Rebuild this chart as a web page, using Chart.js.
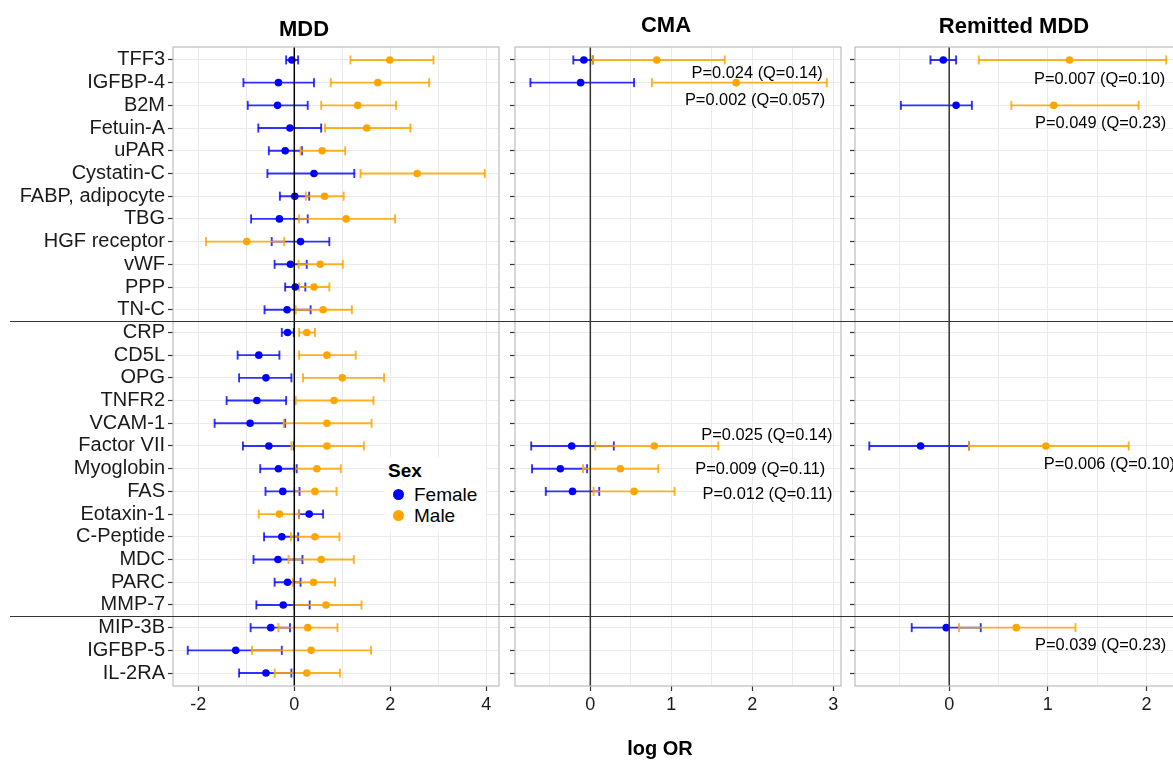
<!DOCTYPE html>
<html>
<head>
<meta charset="utf-8">
<title>log OR by sex</title>
<script src="https://cdn.jsdelivr.net/npm/chart.js@4.4.0/dist/chart.umd.min.js"></script>
<style>
  html, body { margin: 0; padding: 0; background: #fff; overflow: hidden; }
  body { width: 1173px; height: 760px; position: relative; font-family: "Liberation Sans", Arial, sans-serif; color: #000; }
  canvas { position: absolute; top: 0; }
  .title { position: absolute; font-weight: bold; font-size: 22px; line-height: 22px; transform: translateX(-50%); white-space: nowrap; }
  .legend { position: absolute; left: 385px; top: 458px; width: 101px; height: 72px; background: #fff; }
  .legend div { position: absolute; white-space: nowrap; font-size: 19px; line-height: 22px; }
  .legend .dot { width: 11px; height: 11px; border-radius: 50%; top: 5px; left: 8px; }
</style>
</head>
<body>
<canvas id="mdd" width="507" height="760" style="left:0"></canvas>
<canvas id="cma" width="341" height="760" style="left:507px"></canvas>
<canvas id="rem" width="342" height="760" style="left:848px"></canvas>

<div class="title" style="left:304px; top:18px">MDD</div>
<div class="title" style="left:666px; top:14px">CMA</div>
<div class="title" style="left:1014px; top:15px">Remitted MDD</div>
<div class="title" style="left:660px; top:737px; font-size:20px">log OR</div>

<div class="legend">
  <div style="left:3px; top:2px; font-weight:bold">Sex</div>
  <div style="left:0; top:26px; width:100px; height:22px">
    <div class="dot" style="background:#0000ff"></div>
    <div style="left:29px; top:0">Female</div>
  </div>
  <div style="left:0; top:47px; width:100px; height:22px">
    <div class="dot" style="background:#ffa500"></div>
    <div style="left:29px; top:0">Male</div>
  </div>
</div>

<script>
// proteins, top to bottom
const markers = ['TFF3', 'IGFBP-4', 'B2M', 'Fetuin-A', 'uPAR', 'Cystatin-C', 'FABP, adipocyte', 'TBG',
  'HGF receptor', 'vWF', 'PPP', 'TN-C', 'CRP', 'CD5L', 'OPG', 'TNFR2', 'VCAM-1', 'Factor VII',
  'Myoglobin', 'FAS', 'Eotaxin-1', 'C-Peptide', 'MDC', 'PARC', 'MMP-7', 'MIP-3B', 'IGFBP-5', 'IL-2RA'];
const groupBreaks = [11.5, 24.5];

// MDD (all proteins)
const mddFemale   = [-0.05, -0.33, -0.35, -0.09, -0.19, 0.41, 0.01, -0.31, 0.13, -0.08, 0.02, -0.15, -0.14, -0.74, -0.59, -0.78, -0.92, -0.53, -0.33, -0.24, 0.31, -0.26, -0.34, -0.14, -0.23, -0.49, -1.22, -0.59];
const mddFemaleLo = [-0.17, -1.06, -0.97, -0.75, -0.53, -0.56, -0.30, -0.90, -0.47, -0.41, -0.19, -0.62, -0.26, -1.18, -1.15, -1.41, -1.66, -1.07, -0.71, -0.60, 0.10, -0.63, -0.85, -0.41, -0.79, -0.91, -2.22, -1.15];
const mddFemaleHi = [0.08, 0.41, 0.28, 0.56, 0.16, 1.25, 0.31, 0.28, 0.73, 0.26, 0.23, 0.34, -0.01, -0.31, -0.06, -0.17, -0.19, -0.01, 0.05, 0.11, 0.60, 0.08, 0.17, 0.13, 0.32, -0.09, -0.26, -0.06];
const mddMale     = [1.99, 1.74, 1.32, 1.51, 0.58, 2.56, 0.63, 1.08, -0.99, 0.54, 0.41, 0.60, 0.26, 0.68, 1.00, 0.83, 0.68, 0.68, 0.47, 0.43, -0.31, 0.43, 0.56, 0.40, 0.66, 0.28, 0.35, 0.26];
const mddMaleLo   = [1.17, 0.76, 0.56, 0.64, 0.13, 1.38, 0.24, 0.10, -1.84, 0.09, 0.10, 0.03, 0.10, 0.10, 0.18, 0.03, -0.22, -0.06, 0.00, 0.00, -0.74, -0.07, -0.12, -0.03, -0.01, -0.33, -0.88, -0.41];
const mddMaleHi   = [2.90, 2.81, 2.12, 2.42, 1.06, 3.97, 1.03, 2.10, -0.21, 1.01, 0.73, 1.20, 0.43, 1.28, 1.87, 1.65, 1.61, 1.45, 0.97, 0.88, 0.10, 0.94, 1.24, 0.85, 1.40, 0.90, 1.60, 0.95];

// CMA (significant proteins only)
const cmaRows     = ['TFF3', 'IGFBP-4', 'Factor VII', 'Myoglobin', 'FAS'];
const cmaFemale   = [-0.08, -0.12, -0.23, -0.37, -0.22];
const cmaFemaleLo = [-0.21, -0.74, -0.73, -0.72, -0.55];
const cmaFemaleHi = [0.03, 0.54, 0.29, -0.04, 0.11];
const cmaMale     = [0.82, 1.80, 0.79, 0.37, 0.54];
const cmaMaleLo   = [0.03, 0.76, 0.06, -0.09, 0.04];
const cmaMaleHi   = [1.66, 2.92, 1.58, 0.84, 1.04];
const cmaP        = ['P=0.024 (Q=0.14)', 'P=0.002 (Q=0.057)', 'P=0.025 (Q=0.14)', 'P=0.009 (Q=0.11)', 'P=0.012 (Q=0.11)'];
const cmaPRow     = [0.59, 1.79, 16.52, 18.03, 19.12];
const cmaPX       = [2.87, 2.90, 2.99, 2.90, 2.99];

// Remitted MDD
const remRows     = ['TFF3', 'B2M', 'Factor VII', 'MIP-3B'];
const remFemale   = [-0.06, 0.07, -0.29, -0.03];
const remFemaleLo = [-0.19, -0.49, -0.81, -0.38];
const remFemaleHi = [0.07, 0.23, 0.20, 0.32];
const remMale     = [1.22, 1.06, 0.98, 0.68];
const remMaleLo   = [0.30, 0.63, 0.20, 0.10];
const remMaleHi   = [2.20, 1.92, 1.82, 1.28];
const remP        = ['P=0.007 (Q=0.10)', 'P=0.049 (Q=0.23)', 'P=0.006 (Q=0.10)', 'P=0.039 (Q=0.23)'];
const remPRow     = [0.88, 2.79, 17.80, 25.77];
const remPX       = [2.19, 2.20, 2.29, 2.20];

const BLUE = '#0000ff', ORANGE = '#ffa500';
const BLUE_BAR = 'rgba(0,0,255,0.8)', ORANGE_BAR = 'rgba(255,165,0,0.85)';
const FONT = '"Liberation Sans", Arial, sans-serif';

Chart.defaults.font.family = FONT;

function rowOf(name) {
    return markers.indexOf(name);
}

function dotData(rows, est) {
    return rows.map((r, i) => ({ x: est[i], y: rowOf(r) }));
}

// each interval is two points followed by a gap
function barData(rows, lo, hi) {
    const out = [];
    rows.forEach((r, i) => {
        out.push({ x: lo[i], y: rowOf(r) }, { x: hi[i], y: rowOf(r) }, { x: null, y: null });
    });
    return out;
}

function dotSet(data, color) {
    return {
        data,
        pointRadius: 3.8,
        backgroundColor: color,
        borderColor: color,
        pointBorderWidth: 0,
    };
}

function barSet(data, color) {
    return {
        data,
        showLine: true,
        borderColor: color,
        borderWidth: 1.9,
        pointStyle: 'line',
        pointRotation: 90,
        pointRadius: 4.5,
        pointBorderColor: color,
        pointBorderWidth: 1.9,
        pointBackgroundColor: color,
    };
}

function decor(panel) {
    return {
        id: 'decor',
        afterDatasetsDraw(chart) {
            const { ctx, chartArea: a } = chart;
            const x = chart.scales.x, y = chart.scales.y;
            ctx.save();

            const x0 = x.getPixelForValue(0);
            ctx.strokeStyle = panel.zeroColor;
            ctx.lineWidth = 1.5;
            ctx.beginPath();
            ctx.moveTo(x0, a.top);
            ctx.lineTo(x0, a.bottom);
            ctx.stroke();

            ctx.strokeStyle = '#bdbdbd';
            ctx.lineWidth = 1.2;
            ctx.strokeRect(a.left, a.top, a.right - a.left, a.bottom - a.top);

            ctx.strokeStyle = '#333';
            ctx.lineWidth = 1.2;
            groupBreaks.forEach((b) => {
                const yy = Math.round(y.getPixelForValue(b)) + 0.5;
                ctx.beginPath();
                ctx.moveTo(panel.lineStart, yy);
                ctx.lineTo(chart.width, yy);
                ctx.stroke();
            });

            if (panel.notes) {
                ctx.font = '16.4px ' + FONT;
                ctx.fillStyle = '#000';
                ctx.textAlign = 'right';
                ctx.textBaseline = 'middle';
                panel.notes.forEach((txt, i) => {
                    ctx.fillText(txt, x.getPixelForValue(panel.noteX[i]), y.getPixelForValue(panel.noteRow[i]));
                });
            }
            ctx.restore();
        },
    };
}

function makePanel(id, panel) {
    const showTick = panel.showTick;
    return new Chart(document.getElementById(id), {
        type: 'scatter',
        data: {
            datasets: [
                dotSet(dotData(panel.rows, panel.male), ORANGE),
                dotSet(dotData(panel.rows, panel.female), BLUE),
                barSet(barData(panel.rows, panel.maleLo, panel.maleHi), ORANGE_BAR),
                barSet(barData(panel.rows, panel.femaleLo, panel.femaleHi), BLUE_BAR),
            ],
        },
        options: {
            responsive: false,
            animation: false,
            events: [],
            layout: { padding: { top: 47, right: panel.padRight, bottom: 0, left: 0 } },
            plugins: { legend: { display: false }, tooltip: { enabled: false } },
            scales: {
                x: {
                    type: 'linear',
                    min: panel.xMin,
                    max: panel.xMax,
                    afterFit: (s) => { s.height = 74; },
                    ticks: {
                        stepSize: panel.step,
                        includeBounds: false,
                        autoSkip: false,
                        maxRotation: 0,
                        padding: 3,
                        color: '#1a1a1a',
                        font: { size: 18 },
                        callback: (v) => (showTick(v) ? String(v) : ''),
                    },
                    grid: {
                        color: '#ebebeb',
                        lineWidth: 1,
                        tickLength: 5,
                        tickWidth: 1.2,
                        tickColor: (c) => (c.tick && showTick(c.tick.value) ? '#333' : 'rgba(0,0,0,0)'),
                    },
                    border: { display: false },
                },
                y: {
                    type: 'linear',
                    reverse: true,
                    min: -0.57,
                    max: 27.57,
                    afterFit: (s) => { s.width = panel.yWidth; },
                    afterBuildTicks: (s) => { s.ticks = markers.map((m, i) => ({ value: i })); },
                    ticks: {
                        autoSkip: false,
                        padding: 3,
                        color: '#1a1a1a',
                        font: { size: 20 },
                        callback: (v) => (panel.labels ? markers[v] : ''),
                    },
                    grid: { color: '#ebebeb', lineWidth: 1, tickLength: 5, tickWidth: 1.2, tickColor: '#333' },
                    border: { display: false },
                },
            },
        },
        plugins: [decor(panel)],
    });
}

makePanel('mdd', {
    rows: markers,
    female: mddFemale, femaleLo: mddFemaleLo, femaleHi: mddFemaleHi,
    male: mddMale, maleLo: mddMaleLo, maleHi: mddMaleHi,
    xMin: -2.527, xMax: 4.265, step: 1,
    showTick: (v) => v % 2 === 0,
    labels: true, yWidth: 173, padRight: 8, lineStart: 10, zeroColor: '#000',
});

makePanel('cma', {
    rows: cmaRows,
    female: cmaFemale, femaleLo: cmaFemaleLo, femaleHi: cmaFemaleHi,
    male: cmaMale, maleLo: cmaMaleLo, maleHi: cmaMaleHi,
    xMin: -0.93, xMax: 3.095, step: 0.5,
    showTick: (v) => Number.isInteger(v),
    labels: false, yWidth: 8, padRight: 7, lineStart: 0, zeroColor: '#333',
    notes: cmaP, noteRow: cmaPRow, noteX: cmaPX,
});

makePanel('rem', {
    rows: remRows,
    female: remFemale, femaleLo: remFemaleLo, femaleHi: remFemaleHi,
    male: remMale, maleLo: remMaleLo, maleHi: remMaleHi,
    xMin: -0.955, xMax: 2.35, step: 0.5,
    showTick: (v) => Number.isInteger(v),
    labels: false, yWidth: 7, padRight: 9, lineStart: 0, zeroColor: '#333',
    notes: remP, noteRow: remPRow, noteX: remPX,
});
</script>
</body>
</html>
